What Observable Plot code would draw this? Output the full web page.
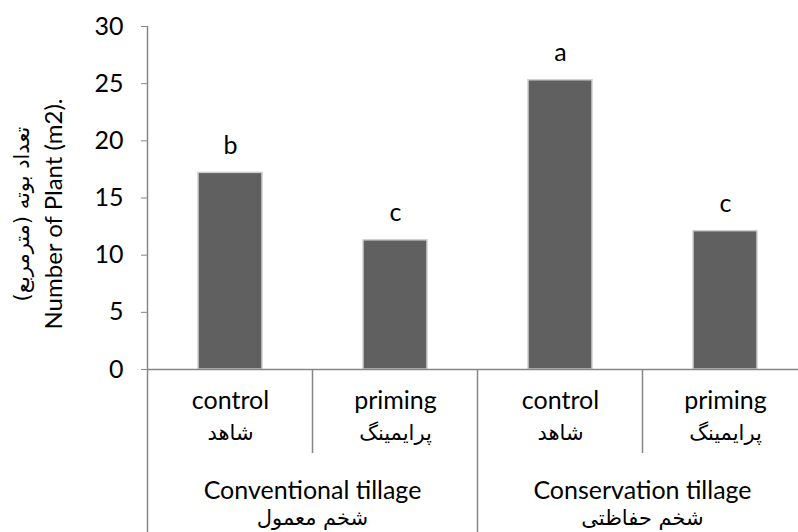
<!DOCTYPE html>
<html><head><meta charset="utf-8">
<script src="https://cdn.jsdelivr.net/npm/d3@7"></script>
<script src="https://cdn.jsdelivr.net/npm/@observablehq/plot@0.6"></script>
<style>body{margin:0;background:#fff;} svg{overflow:visible;}</style>
</head><body><div id="chart"></div>
<script>
const keys = ["conv-control", "conv-priming", "cons-control", "cons-priming"];
const treatmentEn = ["control", "priming", "control", "priming"];
const treatmentFa = ["شاهد", "پرایمینگ", "شاهد", "پرایمینگ"];
const groupEn = ["Conventional tillage", "Conservation tillage"];
const groupFa = ["شخم معمول", "شخم حفاظتی"];
const groupMembers = [[0, 1], [2, 3]];
const values = [17.2, 11.3, 25.3, 12.1];
const letters = ["b", "c", "a", "c"];
const yTicks = [0, 5, 10, 15, 20, 25, 30];
const yTitleEn = "Number of Plant (m2).";
const yTitleFa = "تعداد بوته (مترمربع)";

const FONT = "Lato, 'Open Sans', sans-serif";
const FA_FONT = "'DejaVu Sans', sans-serif";
const FS = 25;
const FA_FS = 21;
const AXIS = "#868686";

const data = keys.map((k, i) => ({key: k, value: values[i], letter: letters[i], en: treatmentEn[i], fa: treatmentFa[i]}));

const chart = Plot.plot({
  width: 798, height: 532,
  marginLeft: 148, marginRight: 0, marginTop: 26, marginBottom: 163,
  style: {fontFamily: FONT, fontSize: FS + "px", color: "#000", background: "#fff"},
  x: {domain: keys, range: [148, 808], paddingInner: 0.61, paddingOuter: 0.305, axis: null},
  y: {domain: [0, 30], axis: null},
  marks: [
    Plot.barY(data, {x: "key", y: "value", fill: "#606060", stroke: "#cfcfcf", strokeWidth: 1.5}),
    Plot.text(data, {x: "key", y: "value", text: "letter", dy: -27, fontSize: FS, fill: "#000"}),
    Plot.axisY({ticks: yTicks, label: null, tickSize: 7, tickPadding: 18, fontSize: FS, stroke: AXIS, strokeOpacity: 1, fill: "#000"}),
    Plot.ruleY([0], {stroke: AXIS, strokeWidth: 1.5}),
    Plot.text(data, {x: "key", text: "en", frameAnchor: "bottom", dy: 39, fontSize: FS, fill: "#000"}),
    Plot.text(data, {x: "key", text: "fa", frameAnchor: "bottom", dy: 70, fontSize: FA_FS, fill: "#000", fontFamily: FA_FONT})
  ]
});
document.getElementById("chart").appendChild(chart);

// category-axis structure drawn from Plot's own scales
const xs = chart.scale("x"), ysc = chart.scale("y");
const gap = (xs.step - xs.bandwidth) / 2;
const leftEdge = i => xs.apply(keys[i]) - gap;
const y0 = ysc.apply(0), yTop = ysc.apply(30);
const svg = d3.select(chart);
const g = svg.append("g").attr("stroke", AXIS).attr("stroke-width", 1.5);
g.append("line").attr("x1", leftEdge(0)).attr("x2", leftEdge(0)).attr("y1", yTop).attr("y2", 532);
keys.forEach((k, i) => {
  if (i === 0) return;
  const isGroup = groupMembers.some(m => m[0] === i);
  const x = leftEdge(i);
  g.append("line").attr("x1", x).attr("x2", x).attr("y1", y0).attr("y2", isGroup ? 532 : y0 + 84);
});
const tg = svg.append("g").attr("text-anchor", "middle").attr("fill", "#000");
groupMembers.forEach((m, j) => {
  const cx = (leftEdge(m[0]) + leftEdge(m[1]) + xs.step) / 2;
  tg.append("text").attr("x", cx).attr("y", y0 + 121).attr("dy", "0.35em")
    .style("font-family", FONT).style("font-size", FS + "px").text(groupEn[j]);
  tg.append("text").attr("x", cx).attr("y", y0 + 149).attr("dy", "0.35em")
    .style("font-family", FA_FONT).style("font-size", FA_FS + "px").text(groupFa[j]);
});
const yt = svg.append("g").attr("text-anchor", "middle").attr("fill", "#000");
const ymid = 214;
yt.append("text").attr("transform", `translate(54,${ymid}) rotate(-90)`).attr("dy", "0.35em")
  .style("font-family", FONT).style("font-size", (FS - 1) + "px").text(yTitleEn);
yt.append("text").attr("transform", `translate(22,${ymid}) rotate(-90)`).attr("dy", "0.35em")
  .style("font-family", FA_FONT).style("font-size", FA_FS + "px").text(yTitleFa);
</script></body></html>
